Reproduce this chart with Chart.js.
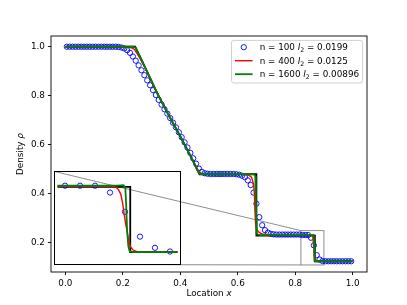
<!DOCTYPE html>
<html>
<head>
<meta charset="utf-8">
<script src="https://cdn.jsdelivr.net/npm/chart.js@4.4.0/dist/chart.umd.min.js"></script>
<style>
  html, body { margin: 0; padding: 0; background: #fff; }
  #wrap { position: relative; width: 407px; height: 305px; }
  #main { position: absolute; left: 0; top: 0; }
  #inset { position: absolute; }
</style>
</head>
<body>
<div id="wrap">
  <canvas id="main" width="407" height="305"></canvas>
  <canvas id="inset"></canvas>
</div>
<script>
// n = 100 run: cell centres and density
const n100X = [
  0.005, 0.015, 0.025, 0.035, 0.045, 0.055, 0.065, 0.075, 0.085, 0.095,
  0.105, 0.115, 0.125, 0.135, 0.145, 0.155, 0.165, 0.175, 0.185, 0.195,
  0.205, 0.215, 0.225, 0.235, 0.245, 0.255, 0.265, 0.275, 0.285, 0.295,
  0.305, 0.315, 0.325, 0.335, 0.345, 0.355, 0.365, 0.375, 0.385, 0.395,
  0.405, 0.415, 0.425, 0.435, 0.445, 0.455, 0.465, 0.475, 0.485, 0.495,
  0.505, 0.515, 0.525, 0.535, 0.545, 0.555, 0.565, 0.575, 0.585, 0.595,
  0.605, 0.615, 0.625, 0.635, 0.645, 0.655, 0.665, 0.675, 0.685, 0.695,
  0.705, 0.715, 0.725, 0.735, 0.745, 0.755, 0.765, 0.775, 0.785, 0.795,
  0.805, 0.815, 0.825, 0.835, 0.845, 0.855, 0.865, 0.875, 0.885, 0.895,
  0.905, 0.915, 0.925, 0.935, 0.945, 0.955, 0.965, 0.975, 0.985, 0.995
];
const n100Rho = [
  1, 1, 1, 1, 1, 1, 1, 1, 1, 1,
  1, 1, 1, 1, 1, 1, 1, 1, 0.999, 0.997,
  0.993, 0.986, 0.975, 0.960, 0.943, 0.924, 0.904, 0.884, 0.863, 0.843,
  0.823, 0.803, 0.783, 0.764, 0.745, 0.727, 0.709, 0.690, 0.671, 0.651,
  0.631, 0.610, 0.589, 0.567, 0.545, 0.523, 0.503, 0.490, 0.484, 0.482,
  0.481, 0.481, 0.481, 0.481, 0.481, 0.481, 0.481, 0.481, 0.481, 0.480,
  0.478, 0.474, 0.468, 0.455, 0.436, 0.405, 0.360, 0.305, 0.272, 0.252,
  0.242, 0.237, 0.235, 0.234, 0.234, 0.234, 0.234, 0.234, 0.234, 0.234,
  0.234, 0.234, 0.232, 0.232, 0.232, 0.221, 0.190, 0.150, 0.132, 0.126,
  0.125, 0.125, 0.125, 0.125, 0.125, 0.125, 0.125, 0.125, 0.125, 0.125
];

// n = 400 run
const n400X = [0, 0.2, 0.22, 0.23, 0.24, 0.25, 0.26, 0.27, 0.28, 0.32, 0.36, 0.40, 0.44,
  0.455, 0.462, 0.468, 0.475, 0.49, 0.62, 0.637, 0.648, 0.655, 0.658, 0.660, 0.662, 0.665,
  0.672, 0.68, 0.69, 0.72, 0.84, 0.856, 0.8586, 0.8607, 0.8622, 0.8635, 0.8643, 0.8656,
  0.8671, 0.8686, 0.8702, 0.8734, 0.8756, 0.88, 1.0];
const n400Rho = [1, 1, 0.999, 0.996, 0.989, 0.972, 0.952, 0.930, 0.908, 0.81, 0.72, 0.635, 0.545,
  0.511, 0.497, 0.488, 0.483, 0.481, 0.481, 0.477, 0.468, 0.44, 0.40, 0.33, 0.28, 0.258,
  0.245, 0.239, 0.235, 0.232, 0.231, 0.231, 0.2306, 0.2256, 0.2181, 0.2032, 0.1883, 0.1685,
  0.1487, 0.1338, 0.1288, 0.1255, 0.1249, 0.125, 0.125];

// n = 1600 run
const n1600X = [0, 0.238, 0.245, 0.25, 0.28, 0.32, 0.36, 0.40, 0.44, 0.46, 0.466, 0.472, 0.48,
  0.652, 0.658, 0.661, 0.6625, 0.6635, 0.6645, 0.666, 0.67, 0.68, 0.86, 0.864, 0.8652,
  0.8658, 0.8664, 0.8672, 0.868, 0.870, 1.0];
const n1600Rho = [1, 1, 0.995, 0.983, 0.91, 0.81, 0.72, 0.635, 0.545, 0.496, 0.484, 0.481, 0.481,
  0.481, 0.479, 0.472, 0.45, 0.38, 0.29, 0.24, 0.234, 0.232, 0.232, 0.2328, 0.229,
  0.20, 0.16, 0.135, 0.127, 0.125, 0.125];

// exact solution
const exactX = [0, 0.243, 0.28, 0.32, 0.36, 0.40, 0.44, 0.467, 0.665, 0.665, 0.8685, 0.8685, 1.0];
const exactRho = [1, 1, 0.91, 0.81, 0.72, 0.635, 0.545, 0.48, 0.48, 0.230, 0.230, 0.125, 0.125];

const xTicks = [0.0, 0.2, 0.4, 0.6, 0.8, 1.0];
const yTicks = [0.2, 0.4, 0.6, 0.8, 1.0];
const legendLabels = ['n = 100 ', 'n = 400 ', 'n = 1600 '];
const legendErrors = ['0.0199', '0.0125', '0.00896'];

// zoomed window of the inset
const zoomX = [0.82, 0.9];
const zoomY = [0.11, 0.25];

const FONT = '"DejaVu Sans"';
const FS = 8.8;
const insetFrac = [0.01, 0.03, 0.4, 0.4]; // left, bottom, width, height (axes fraction)

function pts(xs, ys) {
  return xs.map((x, i) => ({ x: x, y: ys[i] }));
}

function makeDatasets(clip) {
  return [
    { label: 'n100', data: pts(n100X, n100Rho), showLine: false, order: 2,
      pointRadius: 2.65, pointHoverRadius: 2.65, pointBorderWidth: 0.9,
      pointBorderColor: '#0000ff', pointBackgroundColor: 'rgba(0,0,0,0)', clip: clip },
    { label: 'n400', data: pts(n400X, n400Rho), showLine: true, order: 1,
      borderColor: '#ff0000', borderWidth: 1.4, pointRadius: 0, tension: 0, clip: clip },
    { label: 'n1600', data: pts(n1600X, n1600Rho), showLine: true, order: 0,
      borderColor: '#008000', borderWidth: 1.8, pointRadius: 0, tension: 0, clip: clip },
    { label: 'exact', data: pts(exactX, exactRho), showLine: true, order: 3,
      borderColor: '#000000', borderWidth: 1.8, pointRadius: 0, tension: 0, clip: clip }
  ];
}

function insetBox(ca) {
  const W = ca.right - ca.left, H = ca.bottom - ca.top;
  return {
    left: Math.round(ca.left + insetFrac[0] * W),
    right: Math.round(ca.left + (insetFrac[0] + insetFrac[2]) * W),
    bottom: Math.round(ca.bottom - insetFrac[1] * H),
    top: Math.round(ca.bottom - (insetFrac[1] + insetFrac[3]) * H)
  };
}

// draw a run of text pieces with different fonts, returns width
function drawParts(ctx, x, y, parts, draw) {
  let cx = x;
  for (const p of parts) {
    ctx.font = p.font;
    if (draw) ctx.fillText(p.t, cx, y + (p.dy || 0));
    cx += ctx.measureText(p.t).width;
  }
  return cx - x;
}

function labelParts(prefix, value) {
  const f = FS + 'px ' + FONT;
  return [
    { t: prefix, font: f },
    { t: 'l', font: 'italic ' + f },
    { t: '2', font: (FS * 0.7).toFixed(1) + 'px ' + FONT, dy: FS * 0.22 },
    { t: ' = ' + value, font: f }
  ];
}

const framePlugin = {
  id: 'frame',
  afterDatasetsDraw(chart) {
    const { ctx, chartArea: ca } = chart;
    ctx.save();
    ctx.strokeStyle = '#000';
    ctx.lineWidth = 0.9;
    ctx.strokeRect(ca.left, ca.top, ca.right - ca.left, ca.bottom - ca.top);
    ctx.restore();
  }
};

const zoomMarks = {
  id: 'zoomMarks',
  beforeDatasetsDraw(chart) {
    const { ctx, scales: { x, y } } = chart;
    const b = insetBox(chart.chartArea);
    const x0 = x.getPixelForValue(zoomX[0]), x1 = x.getPixelForValue(zoomX[1]);
    const y0 = y.getPixelForValue(zoomY[0]), y1 = y.getPixelForValue(zoomY[1]);
    ctx.save();
    ctx.strokeStyle = '#808080';
    ctx.lineWidth = 0.9;
    ctx.strokeRect(x0, y1, x1 - x0, y0 - y1);
    ctx.beginPath();
    ctx.moveTo(b.left + 0.5, b.top + 0.5);
    ctx.lineTo(x0, y1);
    ctx.moveTo(b.left + 0.5, b.bottom - 0.5);
    ctx.lineTo(x0, y0);
    ctx.stroke();
    ctx.restore();
  }
};

const legendPlugin = {
  id: 'mplLegend',
  afterDraw(chart) {
    const { ctx, chartArea: ca } = chart;
    const ds = chart.data.datasets;
    ctx.save();
    ctx.textBaseline = 'alphabetic';
    const parts = legendLabels.map((l, i) => labelParts(l, legendErrors[i]));
    const textW = Math.max(...parts.map(p => drawParts(ctx, 0, 0, p, false)));
    const pad = 0.4 * FS, hl = 2 * FS, hp = 0.8 * FS, rowH = 13.5;
    const w = pad + hl + hp + textW + pad, h = 42.6;
    const right = ca.right - 0.5 * FS, top = ca.top + 0.5 * FS;
    const left = right - w;

    ctx.beginPath();
    ctx.roundRect(left, top, w, h, 2.5);
    ctx.fillStyle = 'rgba(255,255,255,0.8)';
    ctx.fill();
    ctx.strokeStyle = '#cccccc';
    ctx.lineWidth = 0.9;
    ctx.stroke();

    for (let i = 0; i < 3; i++) {
      const d = ds[i];
      const cy = top + 6.8 + i * rowH;
      const hx = left + pad;
      if (d.showLine === false) {
        ctx.beginPath();
        ctx.arc(hx + hl / 2, cy, d.pointRadius, 0, Math.PI * 2);
        ctx.strokeStyle = d.pointBorderColor;
        ctx.lineWidth = d.pointBorderWidth;
        ctx.stroke();
      } else {
        ctx.beginPath();
        ctx.moveTo(hx, cy);
        ctx.lineTo(hx + hl, cy);
        ctx.strokeStyle = d.borderColor;
        ctx.lineWidth = d.borderWidth;
        ctx.stroke();
      }
      ctx.fillStyle = '#000';
      drawParts(ctx, hx + hl + hp, cy + 3.2, parts[i], true);
    }
    ctx.restore();
  }
};

const titlesPlugin = {
  id: 'axisTitles',
  afterDraw(chart) {
    const { ctx, chartArea: ca } = chart;
    const f = FS + 'px ' + FONT;
    ctx.save();
    ctx.fillStyle = '#000';
    ctx.textBaseline = 'middle';
    const xp = [{ t: 'Location ', font: f }, { t: 'x', font: 'italic ' + f }];
    const wx = drawParts(ctx, 0, 0, xp, false);
    drawParts(ctx, (ca.left + ca.right) / 2 - wx / 2, 293.5, xp, true);
    const yp = [{ t: 'Density ', font: f }, { t: 'ρ', font: 'italic ' + f }];
    const wy = drawParts(ctx, 0, 0, yp, false);
    ctx.translate(21, (ca.top + ca.bottom) / 2);
    ctx.rotate(-Math.PI / 2);
    drawParts(ctx, -wy / 2, 0, yp, true);
    ctx.restore();
  }
};

function axisOpts(min, max, ticks, fit) {
  return {
    type: 'linear', min: min, max: max,
    afterBuildTicks: s => { s.ticks = ticks.map(v => ({ value: v })); },
    afterFit: fit,
    ticks: { color: '#000', font: { family: 'DejaVu Sans', size: FS }, padding: 3,
             autoSkip: false, maxRotation: 0, callback: v => v.toFixed(1) },
    grid: { display: true, drawOnChartArea: false, drawTicks: true, tickLength: 3.1,
            color: '#000', lineWidth: 0.9 },
    border: { display: false }
  };
}

const main = new Chart(document.getElementById('main'), {
  type: 'scatter',
  data: { datasets: makeDatasets(undefined) },
  options: {
    responsive: false,
    animation: false,
    events: [],
    layout: { padding: { left: 0, top: 36, right: 40, bottom: 0 } },
    plugins: { legend: { display: false }, tooltip: { enabled: false } },
    scales: {
      x: axisOpts(-0.05, 1.05, xTicks, s => { s.height = 33; }),
      y: axisOpts(0.08125, 1.04375, yTicks, s => { s.width = 51; })
    }
  },
  plugins: [zoomMarks, framePlugin, legendPlugin, titlesPlugin]
});

// inset axes placed over the main plot
const box = insetBox(main.chartArea);
const insetCanvas = document.getElementById('inset');
insetCanvas.width = box.right - box.left;
insetCanvas.height = box.bottom - box.top;
insetCanvas.style.left = box.left + 'px';
insetCanvas.style.top = box.top + 'px';

const insetFrame = {
  id: 'insetFrame',
  afterDatasetsDraw(chart) {
    const ctx = chart.ctx;
    ctx.save();
    ctx.strokeStyle = '#000';
    ctx.lineWidth = 1;
    ctx.strokeRect(0.5, 0.5, chart.width - 1, chart.height - 1);
    ctx.restore();
  }
};

new Chart(insetCanvas, {
  type: 'scatter',
  data: { datasets: makeDatasets(0) },
  options: {
    responsive: false,
    animation: false,
    events: [],
    layout: { padding: 0 },
    plugins: { legend: { display: false }, tooltip: { enabled: false } },
    scales: {
      x: { type: 'linear', display: false, min: zoomX[0], max: zoomX[1] },
      y: { type: 'linear', display: false, min: zoomY[0], max: zoomY[1] }
    }
  },
  plugins: [insetFrame]
});
</script>
</body>
</html>
